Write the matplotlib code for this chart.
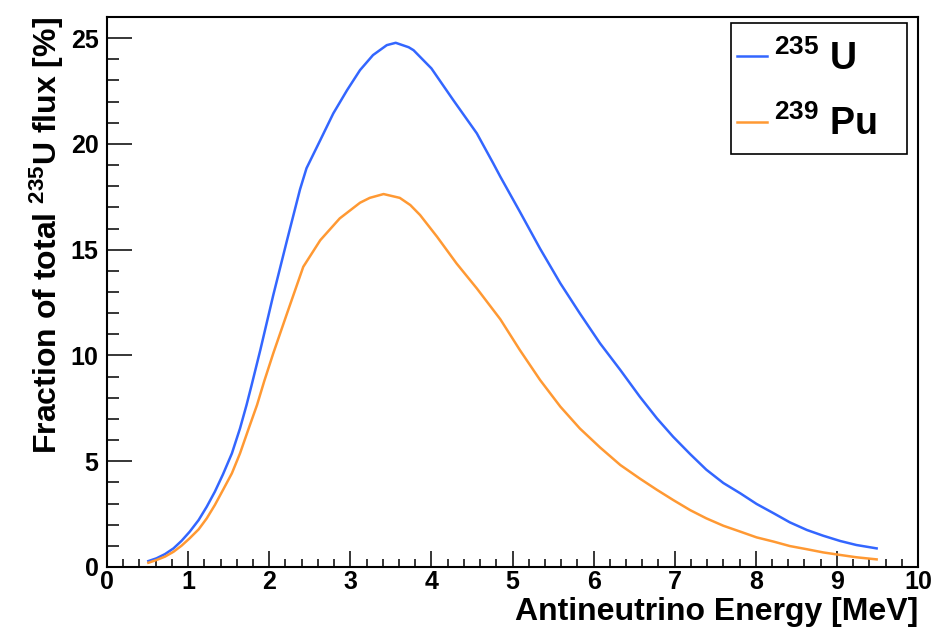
#!/usr/bin/env python3
# antineutrino spectra of 235U and 239Pu, ROOT-like style
import numpy as np
import matplotlib
matplotlib.use('Agg')
import matplotlib.pyplot as plt
from matplotlib.patches import Rectangle
from matplotlib.ticker import MultipleLocator

# --- data ---
u235_e = [0.51, 0.61, 0.715, 0.82, 0.92, 1.02, 1.13, 1.23, 1.33, 1.43, 1.54, 1.64, 1.72, 1.78,
          1.89, 2.05, 2.22, 2.38, 2.46, 2.63, 2.79, 2.96, 3.12, 3.28, 3.45, 3.56, 3.72, 3.78,
          4.0, 4.27, 4.56, 4.76, 4.85, 5.01, 5.09, 5.34, 5.59, 5.83, 6.08, 6.33, 6.57, 6.78,
          6.98, 7.19, 7.39, 7.6, 7.81, 8.01, 8.22, 8.42, 8.63, 8.83, 9.04, 9.24, 9.49]
u235_f = [0.28, 0.41, 0.61, 0.88, 1.24, 1.67, 2.22, 2.85, 3.56, 4.38, 5.37, 6.55, 7.65, 8.55,
          10.25, 12.85, 15.45, 17.85, 18.85, 20.18, 21.44, 22.54, 23.49, 24.2, 24.67, 24.78, 24.57, 24.43,
          23.57, 22.07, 20.5, 19.1, 18.45, 17.35, 16.8, 15.05, 13.41, 11.99, 10.57, 9.31, 8.05, 7.03,
          6.16, 5.34, 4.6, 3.97, 3.48, 2.98, 2.54, 2.11, 1.75, 1.48, 1.23, 1.04, 0.88]

pu239_e = [0.51, 0.61, 0.715, 0.82, 0.92, 1.02, 1.13, 1.23, 1.33, 1.43, 1.54, 1.64, 1.74, 1.85,
           1.94, 2.05, 2.22, 2.42, 2.63, 2.87, 3.12, 3.24, 3.41, 3.61, 3.74, 3.86, 4.07, 4.31,
           4.56, 4.85, 5.09, 5.34, 5.59, 5.83, 6.08, 6.33, 6.57, 6.78, 6.98, 7.19, 7.39, 7.6,
           7.81, 8.01, 8.22, 8.42, 8.63, 8.83, 9.04, 9.24, 9.49]
pu239_f = [0.2, 0.33, 0.49, 0.72, 1.01, 1.36, 1.78, 2.3, 2.93, 3.64, 4.43, 5.37, 6.47, 7.66,
           8.8, 10.1, 11.99, 14.19, 15.45, 16.48, 17.22, 17.45, 17.63, 17.45, 17.11, 16.64, 15.61, 14.35,
           13.17, 11.71, 10.26, 8.84, 7.58, 6.55, 5.65, 4.82, 4.18, 3.65, 3.17, 2.69, 2.3, 1.95,
           1.67, 1.4, 1.2, 0.99, 0.84, 0.69, 0.57, 0.46, 0.36]

labels = [r'$^{235}$ U', r'$^{239}$ Pu']
colors = ['#3366ff', '#ff9933']

plt.rcParams['font.family'] = ['Liberation Sans', 'DejaVu Sans']
plt.rcParams['font.weight'] = 'bold'
plt.rcParams['axes.labelweight'] = 'bold'
plt.rcParams['mathtext.fontset'] = 'custom'
plt.rcParams['mathtext.rm'] = 'Liberation Sans:bold'
plt.rcParams['mathtext.it'] = 'Liberation Sans:bold'
plt.rcParams['mathtext.bf'] = 'Liberation Sans:bold'
plt.rcParams['mathtext.default'] = 'rm'

W, H = 942, 635
fig = plt.figure(figsize=(W/100, H/100), dpi=100)
ax = fig.add_axes([107/W, 1 - 567/H, (918 - 107)/W, (567 - 17)/H])

ax.plot(u235_e, u235_f, color=colors[0], lw=1.8, label=labels[0])
ax.plot(pu239_e, pu239_f, color=colors[1], lw=1.8, label=labels[1])

ax.set_xlim(0, 10)
ax.set_ylim(0, 26)
ax.xaxis.set_major_locator(MultipleLocator(1))
ax.xaxis.set_minor_locator(MultipleLocator(0.2))
ax.yaxis.set_major_locator(MultipleLocator(5))
ax.yaxis.set_minor_locator(MultipleLocator(1))

ax.tick_params(axis='x', which='major', direction='in', length=11.5, width=1.1,
               labelsize=18, pad=2)
ax.tick_params(axis='x', which='minor', direction='in', length=5.8, width=1.1)
ax.tick_params(axis='y', which='major', direction='in', length=18, width=1.1,
               labelsize=18, pad=6)
ax.tick_params(axis='y', which='minor', direction='in', length=8.6, width=1.1)
for sp in ax.spines.values():
  sp.set_linewidth(1.5)

ax.set_xlabel('Antineutrino Energy [MeV]', fontsize=23, loc='right')
ax.set_ylabel(r'Fraction of total $^{235}$U flux [%]', fontsize=23, loc='top')
ax.xaxis.set_label_coords(1.0, -0.055)
ax.yaxis.set_label_coords(-0.05, 1.0)

# legend: ROOT style box drawn separately so the margins match
leg = ax.legend(loc='upper left', bbox_to_anchor=(737/W, 1 - 40/H),
                bbox_transform=fig.transFigure, fontsize=27, frameon=False,
                handlelength=0.8, handletextpad=0.19, labelspacing=0.74,
                borderpad=0, borderaxespad=0)
fig.add_artist(Rectangle((731/W, 1 - 154/H), 176/W, 131/H, transform=fig.transFigure,
                         fill=False, edgecolor='black', linewidth=1.2))

fig.savefig('out.png', dpi=100)
